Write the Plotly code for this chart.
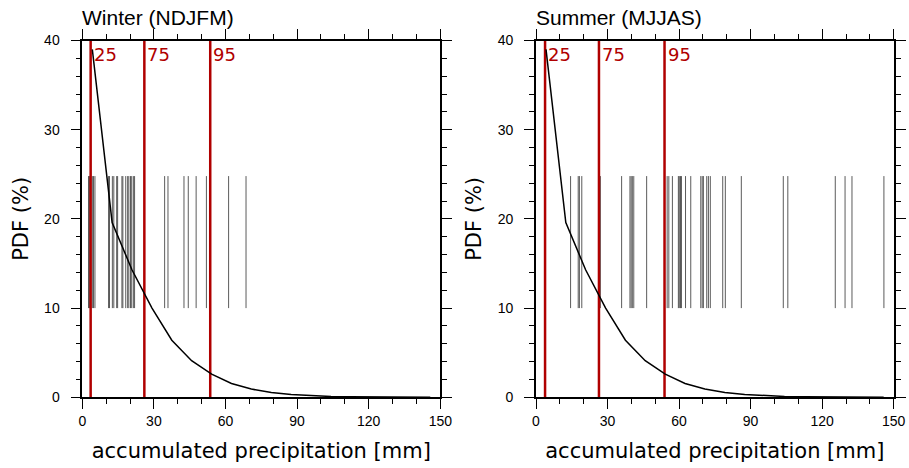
import plotly.graph_objects as go
from plotly.subplots import make_subplots

# pdf of accumulated precipitation (bin centres, %)
pdf_x = [4.2, 12.5, 20.8, 29.2, 37.5, 45.8, 54.2, 62.5, 70.8, 79.2,
         87.5, 95.8, 104.2, 112.5, 120.8, 129.2, 137.5, 145.8]
pdf_y = [39.0, 19.6, 14.3, 10.0, 6.4, 4.1, 2.6, 1.55, 0.92, 0.55,
         0.32, 0.18, 0.10, 0.06, 0.03, 0.02, 0.01, 0.005]

pct_labels = ["25", "75", "95"]
winter_pct = [3.5, 26.0, 53.6]
summer_pct = [3.8, 26.4, 53.9]

winter_obs = [2.6, 3.0, 3.4, 4.2, 4.7, 5.3, 11.0, 11.4, 12.6, 13.2, 14.4, 14.8,
              16.6, 17.0, 18.2, 19.0, 19.5, 20.2, 20.7, 21.4, 21.9, 34.5, 35.9,
              42.6, 44.4, 47.7, 52.0, 61.3, 68.6]
summer_obs = [14.5, 17.7, 18.2, 19.2, 27.0, 35.9, 39.4, 39.9, 40.4, 41.0, 46.4,
              55.0, 55.7, 57.2, 59.7, 60.1, 60.6, 61.0, 62.7, 64.9, 69.1, 69.7,
              70.2, 71.6, 72.3, 73.1, 78.3, 79.4, 86.1, 103.7, 105.6, 125.5,
              129.6, 132.5, 145.9]

rug_lo, rug_hi = 10, 24.8
RED = "#b00000"
W, H = 909, 468


def fx(px):
    return px / W


def fy(py):
    return 1 - py / H


panels = [
    ("Winter (NDJFM)", winter_obs, winter_pct, (82.3, 440.3)),
    ("Summer (MJJAS)", summer_obs, summer_pct, (536.0, 893.7)),
]

fig = make_subplots(rows=1, cols=2)

ydom = [fy(397.3), fy(40.5)]

for i, (title, obs, pct, (x0, x1)) in enumerate(panels, start=1):
    rx, ry = [], []
    for v in obs:
        rx += [v, v, None]
        ry += [rug_lo, rug_hi, None]
    fig.add_trace(go.Scatter(x=rx, y=ry, mode="lines",
                             line=dict(color="rgba(50,50,50,0.8)", width=1),
                             showlegend=False, hoverinfo="skip"), row=1, col=i)
    for p in pct:
        fig.add_trace(go.Scatter(x=[p, p], y=[0, 40], mode="lines",
                                 line=dict(color=RED, width=2.5),
                                 showlegend=False, hoverinfo="skip"), row=1, col=i)
    fig.add_trace(go.Scatter(x=pdf_x, y=pdf_y, mode="lines",
                             line=dict(color="black", width=1.5),
                             showlegend=False), row=1, col=i)

    xa = "x" if i == 1 else "x2"
    ya = "y" if i == 1 else "y2"
    for p, lab in zip(pct, pct_labels):
        fig.add_annotation(x=p, y=40, xref=xa, yref=ya, text=lab, showarrow=False,
                           xanchor="left", yanchor="top", xshift=1, yshift=-1,
                           font=dict(family="DejaVu Sans", size=18, color=RED))

    fig.add_annotation(x=fx(x0), y=fy(31), xref="paper", yref="paper",
                       text=title, showarrow=False, xanchor="left", yanchor="bottom",
                       xshift=-2,
                       font=dict(family="Liberation Sans, Arial", size=21, color="black"))

    axis_common = dict(
        showgrid=False, zeroline=False, showline=True, linecolor="black", linewidth=1.6,
        mirror="allticks", ticks="outside", ticklen=10, tickwidth=1.3, tickcolor="black",
        tickfont=dict(family="Liberation Sans, Arial", size=14, color="black"),
        automargin=False,
    )
    fig.update_xaxes(domain=[fx(x0), fx(x1)], range=[0, 150], dtick=30, tick0=0,
                     minor=dict(dtick=10, ticklen=5, tickcolor="black", ticks="outside"),
                     title=dict(text="accumulated precipitation [mm]", standoff=15,
                                font=dict(family="DejaVu Sans", size=21, color="black")),
                     **axis_common, row=1, col=i)
    fig.update_yaxes(domain=ydom, range=[0, 40], dtick=10, tick0=0,
                     minor=dict(dtick=2, ticklen=5, tickcolor="black", ticks="outside"),
                     ticklabelstandoff=8,
                     title=dict(text="PDF (%)", standoff=10,
                                font=dict(family="DejaVu Sans", size=21, color="black")),
                     **axis_common, row=1, col=i)

fig.update_layout(
    width=W, height=H, margin=dict(l=0, r=0, t=0, b=0),
    plot_bgcolor="white", paper_bgcolor="white",
)

# drop the browser's default body margin so the figure fills the window
fig.write_html("out.html", config={"displayModeBar": False},
               post_script="document.body.style.margin = '0';")
